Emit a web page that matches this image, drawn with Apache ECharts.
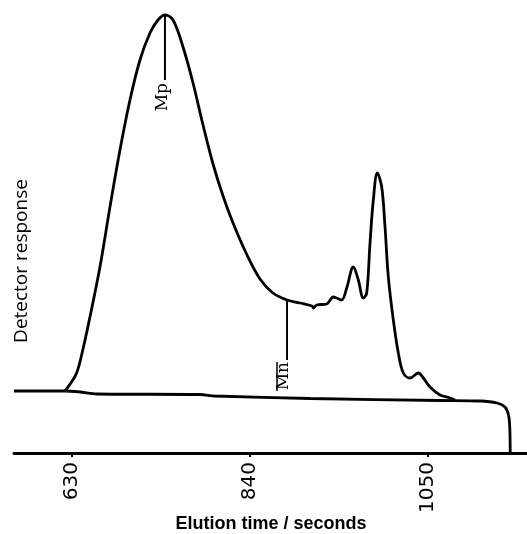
<!DOCTYPE html>
<html>
<head>
<meta charset="utf-8">
<script src="https://cdn.jsdelivr.net/npm/echarts@6/dist/echarts.min.js"></script>
<style>
html,body{margin:0;padding:0;background:#fff;}
#chart{width:527px;height:534px;}
</style>
</head>
<body>
<div id="chart"></div>
<script>
// Tick labels (elution time, seconds)
const timeTicks = [630, 840, 1050];

// Main chromatogram trace: elution time (s) and detector response (arbitrary units)
const curveTime = [621.7, 627, 635.5, 643, 651.2, 663.0, 674.8, 686.6, 698.4, 710.2, 722.0, 731.5, 739.7, 749.2, 761.0, 772.8, 784.6, 796.4, 808.2, 820.0, 836.5, 851.8, 867.1, 883.7, 899.0, 913.2, 914.7, 918.7, 930.5, 938.3, 942.3, 948.2, 954.1, 961.9, 967.8, 973.7, 977.7, 981.6, 985.5, 990.2, 995.4, 999.3, 1003.2, 1009.1, 1015.0, 1020.9, 1028.8, 1038.6, 1044.5, 1052.4, 1064.2, 1076.0, 1081.9];
const curveResp = [62, 68, 80, 104, 136, 186, 246, 303, 353, 393, 420, 433, 438, 433, 406, 370, 328, 289, 257, 230, 198, 174, 160, 153, 150, 147, 145, 148, 149, 156, 155, 153, 165, 186, 173, 155, 160, 210, 253, 280, 266, 226, 176, 133, 100, 80, 75, 80, 75, 66, 58, 55, 53];

// Solvent baseline trace
const baseTime = [561.6, 621.7, 639.4, 659.5, 781.0, 798.7, 910.8, 1064.2, 1111.4, 1131.4, 1140.8, 1145.0, 1146.5, 1147.0];
const baseResp = [62, 62, 61, 59, 58.5, 57, 54.5, 52.5, 52, 50, 46, 38, 25, 0];

// Markers: peak molecular weight (Mp) and number-average (Mn)
const mpTime = 739.7, mpTop = 438, mpBottom = 373;
const mnTime = 883.7, mnTop = 153, mnBottom = 93;

const zip = (a, b) => a.map((v, i) => [v, b[i]]);

const chart = echarts.init(document.getElementById('chart'), null, {renderer: 'canvas'});
const lineStyle = {color: '#000', width: 2.8};

chart.setOption({
  animation: false,
  grid: {left: 14, right: 0, top: 3, bottom: 81, containLabel: false, outerBoundsMode: 'none'},
  xAxis: {
    type: 'value', min: 561.6, max: 1166.8,
    axisLine: {show: true, onZero: false, lineStyle: {color: '#000', width: 2.8}},
    axisTick: {show: true, customValues: timeTicks, length: 4, lineStyle: {color: '#000', width: 2}},
    axisLabel: {customValues: timeTicks, rotate: 90, margin: 9, color: '#000', fontFamily: 'DejaVu Sans', fontSize: 20,
      formatter: v => String(v)},
    splitLine: {show: false}
  },
  yAxis: {
    type: 'value', min: 0, max: 450,
    show: true,
    axisLine: {show: false}, axisTick: {show: false}, axisLabel: {show: false}, splitLine: {show: false}
  },
  series: [
    {type: 'line', data: zip(curveTime, curveResp), smooth: 0.35, symbol: 'none', lineStyle: lineStyle},
    {type: 'line', data: zip(baseTime, baseResp), smooth: 0.3, symbol: 'none', lineStyle: lineStyle},
    {type: 'line', data: [[mpTime, mpTop], [mpTime, mpBottom]], symbol: 'none', lineStyle: {color: '#000', width: 2}},
    {type: 'line', data: [[mnTime, mnTop], [mnTime, mnBottom]], symbol: 'none', lineStyle: {color: '#000', width: 2}}
  ]
});

const pMp = chart.convertToPixel({gridIndex: 0}, [mpTime, mpBottom]);
const pMn = chart.convertToPixel({gridIndex: 0}, [mnTime, mnBottom]);
const labelFont = {fontFamily: 'DejaVu Serif', fontSize: 17, fill: '#000'};

chart.setOption({
  graphic: [
    {type: 'text', x: 271, y: 524,
     style: {text: 'Elution time / seconds', fontFamily: 'Liberation Sans', fontWeight: 'bold', fontSize: 18, fill: '#000', align: 'center', verticalAlign: 'middle'}},
    {type: 'text', x: 22, y: 261, rotation: Math.PI / 2,
     style: {text: 'Detector response', fontFamily: 'Open Sans', fontSize: 19, fill: '#000', align: 'center', verticalAlign: 'middle'}},
    {type: 'text', x: pMp[0] - 2, y: pMp[1] + 3, rotation: Math.PI / 2,
     style: Object.assign({text: 'Mp', align: 'right', verticalAlign: 'middle'}, labelFont)},
    {type: 'text', x: pMn[0] - 3, y: pMn[1] + 2, rotation: Math.PI / 2,
     style: Object.assign({text: 'Mn', align: 'right', verticalAlign: 'middle'}, labelFont)},
    {type: 'line', shape: {x1: pMn[0] - 10, y1: pMn[1] + 2, x2: pMn[0] - 10, y2: pMn[1] + 31},
     style: {stroke: '#000', lineWidth: 1.5}}
  ]
});
</script>
</body>
</html>
